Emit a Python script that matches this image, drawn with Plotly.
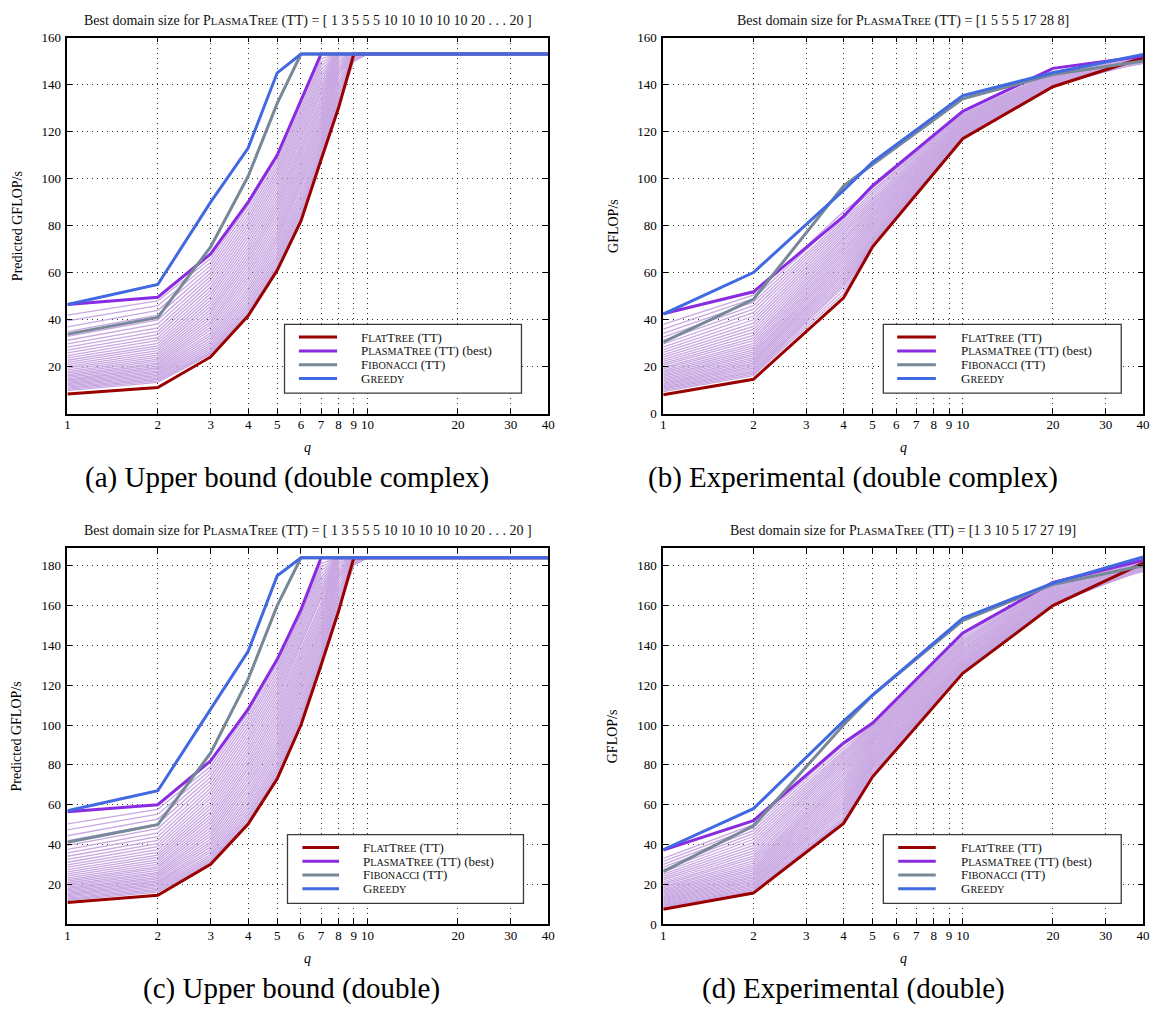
import math
import plotly.graph_objects as go

FONT = "Liberation Serif"

# ---------------------------------------------------------------- data
q_ub = [1, 2, 3, 4, 5, 6, 7, 8, 9, 10, 20, 30, 40]
q_exp = [1, 2, 4, 5, 10, 20, 40]

xtick_vals = [1, 2, 3, 4, 5, 6, 7, 8, 9, 10, 20, 30, 40]

# (a) Upper bound, double complex
ubz_cap = 153
ubz_flat = [8.4, 11.2, 24.2, 41.7, 61, 82, 108, 130, 153, 153, 153, 153, 153]
ubz_plasma = [46.5, 49.6, 68, 90, 110, 133, 153, 153, 153, 153, 153, 153, 153]
ubz_fibo = [33.9, 41, 71, 101, 132, 153, 153, 153, 153, 153, 153, 153, 153]
ubz_greedy = [46.5, 55, 90, 113, 145, 153, 153, 153, 153, 153, 153, 153, 153]
# one column per q = 1..9 (each row of a column is one domain size); flat at the cap from q = 10 on
ubz_domains = [
    [42.0, 39.5, 37.0, 35.0, 33.0, 31.3, 29.8, 28.4, 27.1, 25.9, 24.8, 23.8, 22.8, 21.9, 21.0, 20.2, 19.4,
     18.7, 18.0, 17.3, 16.7, 16.1, 15.5, 14.9, 14.4, 13.9, 13.4, 12.9, 12.4, 11.9, 11.4, 10.9, 10.4, 9.9],
    [48.0, 46.0, 44.0, 42.0, 40.0, 38.2, 36.6, 35.1, 33.7, 32.4, 31.2, 30.0, 28.9, 27.9, 26.9, 25.9, 25.0,
     24.1, 23.3, 22.5, 21.7, 21.0, 20.3, 19.6, 18.9, 18.2, 17.6, 17.0, 16.4, 15.8, 15.2, 14.6, 14.0, 13.4],
    [66.0, 64.5, 63.0, 61.5, 60.0, 58.5, 57.0, 55.5, 54.0, 52.6, 51.2, 49.8, 48.4, 47.0, 45.7, 44.4, 43.1,
     41.8, 40.5, 39.3, 38.1, 36.9, 35.7, 34.5, 33.4, 32.3, 31.2, 30.2, 29.2, 28.3, 27.4, 26.6, 25.9, 25.4],
    [88.5, 87.0, 85.5, 84.0, 82.5, 81.0, 79.5, 78.0, 76.5, 75.0, 73.5, 72.0, 70.5, 69.0, 67.6, 66.2, 64.8,
     63.4, 62.0, 60.6, 59.2, 57.8, 56.4, 55.0, 53.6, 52.3, 51.0, 49.7, 48.4, 47.2, 46.0, 44.9, 43.8, 42.8],
    [109.0, 107.5, 106.0, 104.5, 103.0, 101.5, 100.0, 98.5, 97.0, 95.5, 94.0, 92.5, 91.0, 89.5, 88.0, 86.5,
     85.0, 83.5, 82.0, 80.5, 79.0, 77.5, 76.0, 74.6, 73.2, 71.8, 70.4, 69.0, 67.6, 66.3, 65.0, 63.8, 62.7, 61.8],
    [132.0, 130.5, 129.0, 127.5, 126.0, 124.5, 123.0, 121.5, 120.0, 118.5, 117.0, 115.5, 114.0, 112.5, 111.0,
     109.5, 108.0, 106.5, 105.0, 103.5, 102.0, 100.5, 99.0, 97.5, 96.0, 94.5, 93.0, 91.5, 90.0, 88.6, 87.2,
     85.8, 84.5, 83.2],
    [151.0, 149.5, 148.0, 146.5, 145.0, 143.5, 142.0, 140.5, 139.0, 137.5, 136.0, 134.5, 133.0, 131.5, 130.0,
     128.5, 127.0, 125.6, 124.2, 122.8, 121.4, 120.0, 118.6, 117.2, 115.8, 114.5, 113.2, 112.0, 110.9, 110.0,
     109.4, 109.0, 108.7, 108.4],
    [153.0, 153.0, 153.0, 153.0, 153.0, 153.0, 153.0, 153.0, 153.0, 153.0, 153.0, 153.0, 153.0, 153.0, 153.0,
     153.0, 152.0, 151.0, 150.0, 149.0, 148.0, 147.0, 146.0, 145.0, 144.0, 142.5, 141.0, 139.5, 138.0, 136.5,
     135.0, 133.5, 132.0, 131.0],
    [153.0, 153.0, 153.0, 153.0, 153.0, 153.0, 153.0, 153.0, 153.0, 153.0, 153.0, 153.0, 153.0, 153.0, 153.0,
     153.0, 153.0, 153.0, 153.0, 153.0, 153.0, 153.0, 153.0, 153.0, 153.0, 153.0, 152.5, 152.0, 151.5, 151.0,
     150.5, 150.0, 150.0, 150.0],
]

# (b) Experimental, double complex
expz_flat = [8.1, 14.7, 49.3, 71, 117, 139.1, 151.4]
expz_plasma = [42.6, 51.9, 84, 97, 128.6, 146.9, 152]
expz_fibo = [30.5, 48.7, 97, 106, 134, 144.3, 150]
expz_greedy = [42.4, 60.1, 95, 107, 135.3, 145, 152.8]
expz_domains = [
    [38.0, 36.0, 34.2, 32.6, 31.1, 29.7, 28.4, 27.2, 26.1, 25.1, 24.1, 23.2, 22.3, 21.5, 20.7, 19.9, 19.2,
     18.5, 17.8, 17.1, 16.5, 15.9, 15.3, 14.7, 14.1, 13.5, 13.0, 12.5, 12.0, 11.5, 11.0, 10.5, 10.0, 9.5],
    [50.5, 49.0, 47.5, 46.0, 44.5, 43.0, 41.5, 40.0, 38.6, 37.2, 35.9, 34.6, 33.4, 32.2, 31.1, 30.0, 29.0,
     28.0, 27.1, 26.2, 25.4, 24.6, 23.8, 23.0, 22.3, 21.6, 20.9, 20.2, 19.5, 18.8, 18.1, 17.5, 16.9, 16.3],
    [86.0, 84.5, 83.0, 82.0, 81.0, 80.0, 79.0, 78.0, 77.0, 76.0, 75.0, 74.0, 73.0, 72.0, 71.0, 70.0, 69.0,
     68.0, 67.0, 66.0, 65.0, 64.0, 63.0, 62.0, 61.0, 60.0, 59.0, 58.0, 57.0, 56.0, 55.0, 54.0, 52.5, 51.0],
    [96.0, 95.0, 94.0, 93.0, 92.0, 91.0, 90.2, 89.4, 88.6, 87.8, 87.0, 86.2, 85.4, 84.6, 83.8, 83.0, 82.2,
     81.4, 80.6, 79.8, 79.0, 78.2, 77.4, 76.6, 75.8, 75.0, 74.3, 73.6, 72.9, 72.3, 71.8, 71.4, 71.2, 71.1],
    [127.5, 127.0, 126.5, 126.0, 125.6, 125.2, 124.8, 124.4, 124.0, 123.6, 123.2, 122.8, 122.4, 122.0, 121.7,
     121.4, 121.1, 120.8, 120.5, 120.2, 119.9, 119.6, 119.3, 119.0, 118.8, 118.6, 118.4, 118.2, 118.0, 117.8,
     117.6, 117.4, 117.3, 117.2],
    [145.5, 145.2, 145.0, 144.8, 144.6, 144.4, 144.2, 144.0, 143.8, 143.6, 143.4, 143.2, 143.0, 142.8, 142.6,
     142.4, 142.2, 142.0, 141.8, 141.6, 141.4, 141.2, 141.0, 140.8, 140.6, 140.4, 140.2, 140.0, 139.8, 139.6,
     139.5, 139.4, 139.3, 139.2],
    [151.5, 151.0, 150.5, 150.0, 149.5, 149.0, 150.5, 151.0, 150.0, 149.5, 152.0, 151.0, 150.5, 149.0, 150.0,
     151.5, 150.5, 149.5, 151.0, 150.0, 149.0, 150.5, 151.5, 150.0, 149.5, 151.0, 150.5, 150.0, 149.5, 151.0,
     150.5, 150.0, 151.0, 150.5],
]

# (c) Upper bound, double
ubd_cap = 184
ubd_flat = [10.9, 14.5, 30.1, 50.3, 73, 100, 130, 157, 184, 184, 184, 184, 184]
ubd_plasma = [56.5, 60, 82, 108, 133, 158, 184, 184, 184, 184, 184, 184, 184]
ubd_fibo = [41.1, 50, 86, 123, 160, 184, 184, 184, 184, 184, 184, 184, 184]
ubd_greedy = [57, 67, 108, 137, 175, 184, 184, 184, 184, 184, 184, 184, 184]
ubd_domains = [
    [50.4, 47.4, 44.4, 42.0, 39.6, 37.6, 35.8, 34.1, 32.5, 31.1, 29.8, 28.6, 27.4, 26.3, 25.2, 24.2, 23.3,
     22.4, 21.6, 20.8, 20.0, 19.3, 18.6, 17.9, 17.3, 16.7, 16.1, 15.5, 14.9, 14.3, 13.7, 13.1, 12.5, 11.9],
    [57.6, 55.2, 52.8, 50.4, 48.0, 45.8, 43.9, 42.1, 40.4, 38.9, 37.4, 36.0, 34.7, 33.5, 32.3, 31.1, 30.0,
     28.9, 28.0, 27.0, 26.0, 25.2, 24.4, 23.5, 22.7, 21.8, 21.1, 20.4, 19.7, 19.0, 18.2, 17.5, 16.8, 16.1],
    [79.2, 77.4, 75.6, 73.8, 72.0, 70.2, 68.4, 66.6, 64.8, 63.1, 61.4, 59.8, 58.1, 56.4, 54.8, 53.3, 51.7,
     50.2, 48.6, 47.2, 45.7, 44.3, 42.8, 41.4, 40.1, 38.8, 37.4, 36.2, 35.0, 34.0, 32.9, 31.9, 31.1, 30.5],
    [106.2, 104.4, 102.6, 100.8, 99.0, 97.2, 95.4, 93.6, 91.8, 90.0, 88.2, 86.4, 84.6, 82.8, 81.1, 79.4, 77.8,
     76.1, 74.4, 72.7, 71.0, 69.4, 67.7, 66.0, 64.3, 62.8, 61.2, 59.6, 58.1, 56.6, 55.2, 53.9, 52.6, 51.4],
    [130.8, 129.0, 127.2, 125.4, 123.6, 121.8, 120.0, 118.2, 116.4, 114.6, 112.8, 111.0, 109.2, 107.4, 105.6,
     103.8, 102.0, 100.2, 98.4, 96.6, 94.8, 93.0, 91.2, 89.5, 87.8, 86.2, 84.5, 82.8, 81.1, 79.6, 78.0, 76.6,
     75.2, 74.2],
    [157.0, 155.6, 154.2, 152.8, 151.2, 149.4, 147.6, 145.8, 144.0, 142.2, 140.4, 138.6, 136.8, 135.0, 133.2,
     131.4, 129.6, 127.8, 126.0, 124.2, 122.4, 120.6, 118.8, 117.0, 115.2, 113.4, 111.6, 109.8, 108.0, 106.3,
     104.6, 103.0, 101.4, 100.6],
    [181.2, 179.4, 177.6, 175.8, 174.0, 172.2, 170.4, 168.6, 166.8, 165.0, 163.2, 161.4, 159.6, 157.8, 156.0,
     154.2, 152.4, 150.7, 149.0, 147.4, 145.7, 144.0, 142.3, 140.6, 139.0, 137.4, 135.8, 134.4, 133.1, 132.0,
     131.3, 130.8, 130.4, 130.1],
    [184.0, 184.0, 184.0, 184.0, 184.0, 184.0, 184.0, 184.0, 184.0, 184.0, 184.0, 184.0, 184.0, 184.0, 184.0,
     184.0, 182.9, 181.7, 180.5, 179.3, 178.1, 176.9, 175.7, 174.5, 173.3, 171.5, 169.7, 167.9, 166.1, 164.3,
     162.5, 160.7, 158.9, 157.7],
    [184.0, 184.0, 184.0, 184.0, 184.0, 184.0, 184.0, 184.0, 184.0, 184.0, 184.0, 184.0, 184.0, 184.0, 184.0,
     184.0, 184.0, 184.0, 184.0, 184.0, 184.0, 184.0, 184.0, 184.0, 184.0, 184.0, 183.4, 182.8, 182.2, 181.6,
     181.0, 180.4, 180.4, 180.4],
]

# (d) Experimental, double
expd_flat = [7.5, 15.6, 50.6, 74, 126, 160, 181.3]
expd_plasma = [37.2, 52, 91, 101, 146.2, 171.7, 182.8]
expd_fibo = [26.4, 49.4, 100, 115, 152.5, 170.6, 180]
expd_greedy = [37.4, 58, 102, 115, 153.6, 171.3, 184.4]
expd_domains = [
    [33.0, 31.5, 30.0, 28.7, 27.4, 26.2, 25.1, 24.1, 23.1, 22.2, 21.3, 20.5, 19.7, 18.9, 18.2, 17.5, 16.8,
     16.2, 15.6, 15.0, 14.4, 13.8, 13.3, 12.8, 12.3, 11.8, 11.3, 10.8, 10.3, 9.8, 9.4, 9.0, 8.6, 8.2],
    [50.0, 48.5, 47.0, 45.5, 44.0, 42.5, 41.0, 39.6, 38.2, 36.8, 35.5, 34.2, 33.0, 31.8, 30.7, 29.6, 28.6,
     27.6, 26.7, 25.8, 24.9, 24.0, 23.2, 22.4, 21.6, 20.8, 20.0, 19.3, 18.6, 17.9, 17.2, 16.6, 16.0, 15.5],
    [90.0, 88.5, 87.0, 86.0, 85.0, 84.0, 83.0, 82.0, 81.0, 80.0, 79.0, 77.8, 76.6, 75.4, 74.2, 73.0, 71.8,
     70.6, 69.4, 68.2, 67.0, 65.8, 64.6, 63.4, 62.2, 61.0, 59.8, 58.6, 57.4, 56.2, 55.0, 53.8, 52.8, 52.0],
    [100.5, 100.0, 99.5, 99.0, 98.3, 97.6, 96.9, 96.2, 95.5, 94.8, 94.1, 93.4, 92.7, 92.0, 91.2, 90.4, 89.6,
     88.8, 88.0, 87.2, 86.4, 85.6, 84.8, 84.0, 83.2, 82.4, 81.6, 80.8, 80.0, 79.2, 78.4, 77.5, 76.5, 75.5],
    [145.0, 144.0, 143.0, 142.2, 141.4, 140.6, 139.8, 139.0, 138.3, 137.6, 136.9, 136.2, 135.5, 134.8, 134.1,
     133.4, 132.8, 132.2, 131.6, 131.0, 130.5, 130.0, 129.5, 129.0, 128.6, 128.2, 127.8, 127.4, 127.1, 126.8,
     126.6, 126.4, 126.3, 126.2],
    [171.5, 171.0, 170.5, 170.0, 169.5, 169.0, 168.5, 168.0, 167.6, 167.2, 166.8, 166.4, 166.0, 165.6, 165.2,
     164.8, 164.4, 164.0, 163.7, 163.4, 163.1, 162.8, 162.5, 162.2, 161.9, 161.6, 161.4, 161.2, 161.0, 160.8,
     160.6, 160.5, 160.4, 160.3],
    [183.0, 182.5, 182.0, 181.5, 181.0, 180.5, 180.0, 179.5, 179.0, 178.5, 178.0, 177.5, 177.0, 182.0, 181.0,
     180.0, 179.0, 178.0, 183.0, 182.5, 181.5, 180.5, 179.5, 178.5, 177.5, 182.0, 181.0, 180.0, 179.0, 178.0,
     181.5, 180.5, 179.5, 178.5],
]

# ---------------------------------------------------------------- styling
C_FLAT = "#990000"
C_PLASMA = "#8A2BE2"
C_FIBO = "#778899"
C_GREEDY = "#4169E1"
C_LIGHT = "rgb(201,168,226)"
W_MAIN = 3
W_LIGHT = 1.3


def smallcaps(word, small):
    return f"{word[0]}<span style='font-size:{small}px'>{word[1:].upper()}</span>"


LEG_SIZE = 13
LEG_SMALL = 10.2
legend_items = [
    (smallcaps("Flat", LEG_SMALL) + smallcaps("Tree", LEG_SMALL) + " (TT)", C_FLAT),
    (smallcaps("Plasma", LEG_SMALL) + smallcaps("Tree", LEG_SMALL) + " (TT) (best)", C_PLASMA),
    (smallcaps("Fibonacci", LEG_SMALL) + " (TT)", C_FIBO),
    (smallcaps("Greedy", LEG_SMALL), C_GREEDY),
]

TITLE_SIZE = 14
TITLE_SMALL = 10.9
plasma_title = smallcaps("Plasma", TITLE_SMALL) + smallcaps("Tree", TITLE_SMALL)
title_ub = f"Best domain size for {plasma_title} (TT) = [ 1 3 5 5 5 10 10 10 10 10 20 . . . 20 ]"

W, H = 1157, 1009


def px_x(a, b):
    return [a / W, b / W]


def px_y(top, bottom):
    return [1 - bottom / H, 1 - top / H]


def tail(cols, cap, n):
    rows = []
    for i in range(len(cols[0])):
        rows.append([c[i] for c in cols] + [cap] * n)
    return rows


def rows_of(cols):
    return [[c[i] for c in cols] for i in range(len(cols[0]))]


panels = [
    dict(xa="x", ya="y", xdom=px_x(65, 550), ydom=px_y(31, 413), q=q_ub,
         light=tail(ubz_domains, ubz_cap, 4), flat=ubz_flat, plasma=ubz_plasma, fibo=ubz_fibo,
         greedy=ubz_greedy, yrange=[0, 160], yticks=list(range(20, 161, 20)),
         ylabel="Predicted GFLOP/s", title=title_ub,
         caption="(a) Upper bound (double complex)", cap_x=286,
         cap_y=478, box=(0.4515, 0.9443), seg=(0.4814, 0.5608), tx=0.606),
    dict(xa="x2", ya="y2", xdom=px_x(666, 1150), ydom=px_y(31, 413), q=q_exp,
         light=rows_of(expz_domains), flat=expz_flat, plasma=expz_plasma, fibo=expz_fibo,
         greedy=expz_greedy, yrange=[0, 160], yticks=list(range(0, 161, 20)),
         ylabel="GFLOP/s",
         title=f"Best domain size for {plasma_title} (TT) = [1 5 5 5 17 28 8]",
         caption="(b) Experimental (double complex)", cap_x=857,
         cap_y=478, box=(0.4587, 0.9545), seg=(0.4876, 0.5682), tx=0.6157),
    dict(xa="x3", ya="y3", xdom=px_x(65, 550), ydom=px_y(549, 931), q=q_ub,
         light=tail(ubd_domains, ubd_cap, 4), flat=ubd_flat, plasma=ubd_plasma, fibo=ubd_fibo,
         greedy=ubd_greedy, yrange=[0, 189], yticks=list(range(20, 181, 20)),
         ylabel="Predicted GFLOP/s", title=title_ub,
         caption="(c) Upper bound (double)", cap_x=291,
         cap_y=996, box=(0.4577, 0.9485), seg=(0.4887, 0.5649), tx=0.610),
    dict(xa="x4", ya="y4", xdom=px_x(666, 1150), ydom=px_y(549, 931), q=q_exp,
         light=rows_of(expd_domains), flat=expd_flat, plasma=expd_plasma, fibo=expd_fibo,
         greedy=expd_greedy, yrange=[0, 189], yticks=list(range(0, 181, 20)),
         ylabel="GFLOP/s",
         title=f"Best domain size for {plasma_title} (TT) = [1 3 10 5 17 27 19]",
         caption="(d) Experimental (double)", cap_x=858,
         cap_y=996, box=(0.4587, 0.9545), seg=(0.4897, 0.568), tx=0.6157),
]

LEG_BOX_Y = (0.055, 0.238)
LEG_ROWS = [0.204, 0.1673, 0.1307, 0.094]

fig = go.Figure()
layout = dict(
    width=W, height=H, margin=dict(l=0, r=0, t=0, b=0),
    paper_bgcolor="white", plot_bgcolor="white", showlegend=False,
    font=dict(family=FONT, color="black"),
)
shapes = []
annotations = []

for p in panels:
    xa, ya = p["xa"], p["ya"]
    for row in p["light"]:
        fig.add_trace(go.Scatter(x=p["q"], y=row, mode="lines", xaxis=xa, yaxis=ya,
                                 line=dict(color=C_LIGHT, width=W_LIGHT), hoverinfo="skip"))
    for key, color in (("flat", C_FLAT), ("plasma", C_PLASMA), ("fibo", C_FIBO), ("greedy", C_GREEDY)):
        fig.add_trace(go.Scatter(x=p["q"], y=p[key], mode="lines", xaxis=xa, yaxis=ya,
                                 line=dict(color=color, width=W_MAIN)))

    xkey = "xaxis" if xa == "x" else "xaxis" + xa[1:]
    ykey = "yaxis" if ya == "y" else "yaxis" + ya[1:]
    common = dict(showline=True, linecolor="black", linewidth=1.6, mirror="allticks",
                  ticks="inside", ticklen=5, tickwidth=1, tickcolor="black",
                  showgrid=True, gridcolor="rgba(0,0,0,0.8)", gridwidth=1, griddash="1px,4px",
                  zeroline=False, tickfont=dict(family=FONT, size=13, color="black"))
    layout[xkey] = dict(common, domain=p["xdom"], anchor=ya, type="log",
                        range=[0, math.log10(40)], tickvals=xtick_vals,
                        ticktext=[str(v) for v in xtick_vals], ticklabelstandoff=-2)
    layout[ykey] = dict(common, domain=p["ydom"], anchor=xa, range=p["yrange"],
                        tickvals=p["yticks"], ticktext=[str(v) for v in p["yticks"]],
                        ticklabelstandoff=2)

    xd, yd = f"{xa} domain", f"{ya} domain"
    # panel title, axis titles
    annotations.append(dict(text=p["title"], xref=xd, yref=yd, x=0.5, y=1, yshift=17,
                            xanchor="center", yanchor="middle", showarrow=False,
                            font=dict(family=FONT, size=TITLE_SIZE, color="#111")))
    annotations.append(dict(text="<i>q</i>", xref=xd, yref=yd, x=0.5, y=0, yshift=-34,
                            xanchor="center", yanchor="middle", showarrow=False,
                            font=dict(family=FONT, size=14, color="black")))
    annotations.append(dict(text=p["ylabel"], xref=xd, yref=yd, x=0, y=0.5, xshift=-50,
                            xanchor="center", yanchor="middle", textangle=-90, showarrow=False,
                            font=dict(family=FONT, size=14, color="black")))
    # caption under the panel
    annotations.append(dict(text=p["caption"], xref="paper", yref="paper",
                            x=p["cap_x"] / W, y=1 - p["cap_y"] / H,
                            xanchor="center", yanchor="middle", showarrow=False,
                            font=dict(family=FONT, size=29, color="black")))
    # legend box
    shapes.append(dict(type="rect", xref=xd, yref=yd, x0=p["box"][0], x1=p["box"][1],
                       y0=LEG_BOX_Y[0], y1=LEG_BOX_Y[1], fillcolor="white",
                       line=dict(color="#3a3a3a", width=1.3), layer="above"))
    for (label, color), yy in zip(legend_items, LEG_ROWS):
        shapes.append(dict(type="line", xref=xd, yref=yd, x0=p["seg"][0], x1=p["seg"][1],
                           y0=yy, y1=yy, line=dict(color=color, width=W_MAIN), layer="above"))
        annotations.append(dict(text=label, xref=xd, yref=yd, x=p["tx"], y=yy,
                                xanchor="left", yanchor="middle", showarrow=False,
                                font=dict(family=FONT, size=LEG_SIZE, color="#111")))

layout["shapes"] = shapes
layout["annotations"] = annotations
fig.update_layout(**layout)

fig.write_html("out.html")
